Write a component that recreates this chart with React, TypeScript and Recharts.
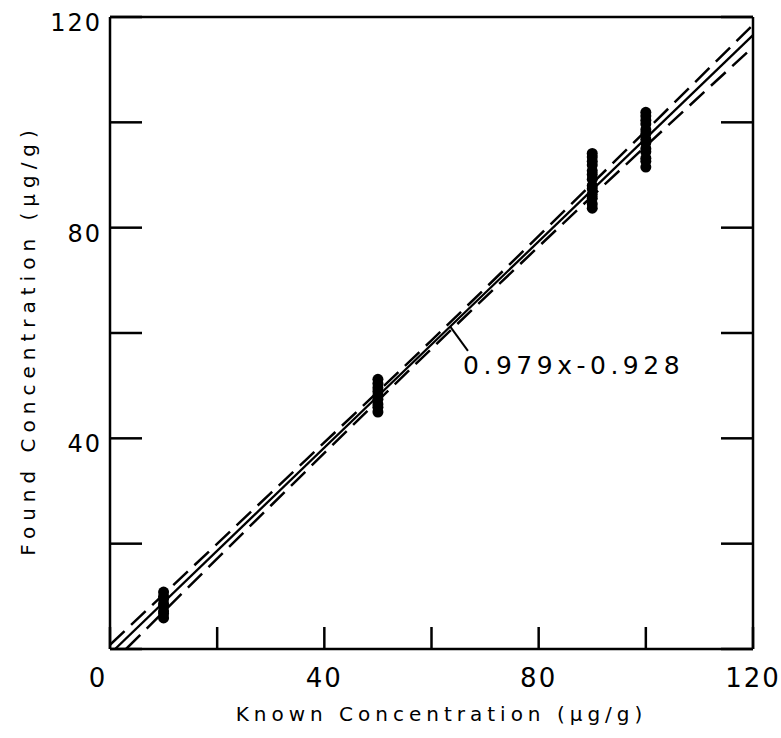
import { ComposedChart, Scatter, Line, XAxis, YAxis, ReferenceLine, ReferenceDot } from 'recharts'

// axis ticks (every 20), labels only every 40
const TICKS = [0, 20, 40, 60, 80, 100, 120]
const LABELLED = [0, 40, 80, 120]

// measured replicates, grouped by known concentration
const KNOWN = [10, 50, 90, 100]
const FOUND_10 = [5.9, 6.7, 7.2, 8.1, 8.6, 9.5, 10.0, 10.8]
const FOUND_50 = [45.0, 45.9, 46.5, 47.4, 48.1, 48.9, 49.6, 50.4, 51.2]
const FOUND_90 = [83.7, 84.5, 85.6, 86.3, 87.4, 88.0, 89.2, 90.1, 90.8, 91.9, 92.6, 93.4, 94.1]
const FOUND_100 = [91.5, 92.6, 93.2, 94.4, 95.0, 96.1, 96.8, 97.9, 98.6, 99.7, 100.4, 101.2, 101.9]

// least squares fit 0.979x - 0.928 and its confidence limits
const FIT_X = [0.95, 120]
const FIT_Y = [0, 116.55]
const UPPER_X = [0, 30, 60, 90, 120]
const UPPER_Y = [0.8, 29.6, 58.6, 88.4, 118.5]
const LOWER_X = [3.0, 30, 60, 90, 120]
const LOWER_Y = [0, 27.2, 57.0, 86.0, 114.3]

const FONT = '"DejaVu Sans", sans-serif'

const zip = (xs: number[], ys: number[]) => xs.map((x, i) => ({ x, y: ys[i] }))

const points = [FOUND_10, FOUND_50, FOUND_90, FOUND_100].flatMap((ys, i) =>
  ys.map((y) => ({ x: KNOWN[i], y }))
)
const fit = zip(FIT_X, FIT_Y)
const upper = zip(UPPER_X, UPPER_Y)
const lower = zip(LOWER_X, LOWER_Y)

const XTick = ({ x, y, payload }: any) => {
  if (!LABELLED.includes(payload.value)) return <g />
  const dx = payload.value === 0 ? -12 : 0
  return (
    <text x={x + dx} y={y + 38} textAnchor="middle" fontSize={26} letterSpacing={2} fill="#000" fontFamily={FONT}>
      {payload.value}
    </text>
  )
}

const YTick = ({ x, y, payload }: any) => {
  if (!LABELLED.includes(payload.value) || payload.value === 0) return <g />
  return (
    <text x={x - 8} y={y + 14} textAnchor="end" fontSize={24} letterSpacing={2} fill="#000" fontFamily={FONT}>
      {payload.value}
    </text>
  )
}

const NoTick = () => <g />

const axisLine = { stroke: '#000', strokeWidth: 2.5 }
const tickLine = { stroke: '#000', strokeWidth: 2.5 }

export default function App() {
  return (
    <div style={{ position: 'absolute', left: 0, top: 0, width: 781, height: 738, background: '#fff' }}>
      <ComposedChart width={781} height={738} margin={{ top: 16, right: 27, bottom: 14, left: 30 }}>
        <XAxis
          xAxisId="bottom"
          dataKey="x"
          type="number"
          domain={[0, 120]}
          ticks={TICKS}
          allowDataOverflow
          height={75}
          axisLine={axisLine}
          tickLine={tickLine}
          tickSize={-22}
          tickMargin={22}
          tick={XTick}
          label={{
            content: ({ viewBox }: any) => (
              <text
                x={viewBox.x + viewBox.width / 2 + 10}
                y={viewBox.y + 72}
                textAnchor="middle"
                fontSize={20}
                letterSpacing={5}
                fill="#000"
                fontFamily={FONT}
              >
                Known Concentration (μg/g)
              </text>
            ),
          }}
        />
        <XAxis
          xAxisId="top"
          orientation="top"
          type="number"
          domain={[0, 120]}
          ticks={TICKS}
          allowDataOverflow
          height={1}
          axisLine={axisLine}
          tickLine={tickLine}
          tickSize={-22}
          tick={NoTick}
        />
        <YAxis
          yAxisId="left"
          dataKey="y"
          type="number"
          domain={[0, 120]}
          ticks={TICKS}
          allowDataOverflow
          width={80}
          axisLine={axisLine}
          tickLine={tickLine}
          tickSize={-32}
          tickMargin={32}
          tick={YTick}
          label={{
            content: () => {
              const cx = 35
              const cy = 340
              return (
                <text
                  x={cx}
                  y={cy}
                  transform={`rotate(-90, ${cx}, ${cy})`}
                  textAnchor="middle"
                  fontSize={20}
                  letterSpacing={6}
                  fill="#000"
                  fontFamily={FONT}
                >
                  Found Concentration (μg/g)
                </text>
              )
            },
          }}
        />
        <YAxis
          yAxisId="right"
          orientation="right"
          type="number"
          domain={[0, 120]}
          ticks={TICKS}
          allowDataOverflow
          width={1}
          axisLine={axisLine}
          tickLine={tickLine}
          tickSize={-32}
          tick={NoTick}
        />
        <Line
          xAxisId="bottom"
          yAxisId="left"
          data={upper}
          dataKey="y"
          type="monotone"
          stroke="#000"
          strokeWidth={2.5}
          strokeDasharray="20 9"
          dot={false}
          isAnimationActive={false}
        />
        <Line
          xAxisId="bottom"
          yAxisId="left"
          data={lower}
          dataKey="y"
          type="monotone"
          stroke="#000"
          strokeWidth={2.5}
          strokeDasharray="20 9"
          dot={false}
          isAnimationActive={false}
        />
        <Line
          xAxisId="bottom"
          yAxisId="left"
          data={fit}
          dataKey="y"
          type="linear"
          stroke="#000"
          strokeWidth={2.3}
          dot={false}
          isAnimationActive={false}
        />
        <Scatter
          xAxisId="bottom"
          yAxisId="left"
          data={points}
          dataKey="y"
          fill="#000"
          shape={(p: any) => <circle cx={p.cx} cy={p.cy} r={5.5} fill="#000" />}
          isAnimationActive={false}
        />
        <ReferenceLine
          xAxisId="bottom"
          yAxisId="left"
          segment={[{ x: 63.5, y: 61.2 }, { x: 66.8, y: 56.6 }]}
          stroke="#000"
          strokeWidth={2}
        />
        <ReferenceDot
          xAxisId="bottom"
          yAxisId="left"
          x={65.9}
          y={53.9}
          r={0}
          shape={(p: any) => (
            <text x={p.cx} y={p.cy + 9} fontSize={25} letterSpacing={4.5} fill="#000" fontFamily={FONT}>
              0.979x-0.928
            </text>
          )}
        />
      </ComposedChart>
    </div>
  )
}
